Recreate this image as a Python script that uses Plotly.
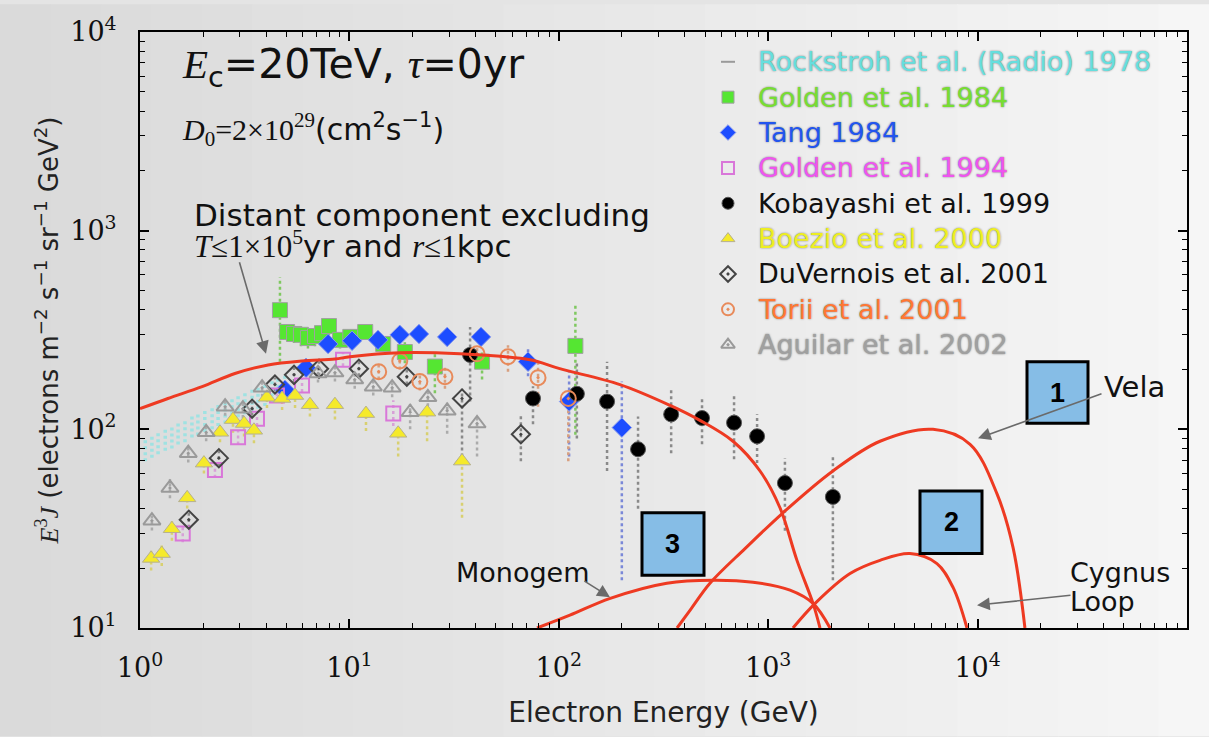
import plotly.graph_objects as go

# ---------------- data ----------------
rock_x = [1.06, 1.14, 1.22, 1.32, 1.42, 1.52, 1.64, 1.77, 1.89, 2.04, 2.21, 2.36, 2.55, 2.75, 2.94, 3.17, 3.43, 3.66, 3.95, 4.27, 4.56, 4.92]
rock_y = [79, 83, 86, 89, 92, 96, 99, 104, 107, 111, 115, 119, 123, 128, 132, 137, 142, 146, 151, 157, 162, 168]
rock_lo = [69, 72, 75, 78, 80, 84, 86, 91, 93, 97, 100, 104, 107, 111, 115, 119, 124, 127, 131, 137, 141, 146]
rock_hi = [90, 95, 98, 101, 105, 109, 113, 119, 122, 127, 131, 136, 140, 146, 150, 156, 162, 166, 172, 179, 185, 192]

g84_x = [4.66, 5.04, 5.44, 5.87, 6.34, 6.85, 7.40, 7.99, 9.02, 10.1, 11.9, 14.5, 18.4, 25.6, 43.0, 120]
g84_y = [398, 309, 302, 299, 288, 295, 305, 331, 282, 292, 309, 269, 245, 207, 219, 263]
g84_lo = [219, 280, 272, 262, 255, 262, 272, 300, 255, 265, 285, 245, 215, 152, 178, 94]
g84_hi = [582, 340, 335, 330, 320, 325, 335, 365, 310, 320, 335, 295, 275, 240, 250, 422]

tang_x = [4.92, 6.21, 7.91, 10.3, 13.7, 17.4, 21.5, 29.3, 42.5, 71.3, 112, 200]
tang_y = [158, 204, 269, 279, 282, 299, 302, 292, 292, 219, 138, 102]
tang_lo = [142, 186, 250, 260, 262, 278, 280, 270, 268, 185, 73, 17.4]
tang_hi = [175, 224, 290, 300, 304, 322, 326, 315, 318, 260, 195, 174]

g94_x = [1.60, 2.28, 2.94, 3.62, 4.51, 5.94, 9.32, 16.2]
g94_y = [29.9, 62.4, 91.2, 113, 148, 166, 224, 120]
g94_lo = [27, 57, 84, 104, 137, 154, 208, 104]
g94_hi = [33, 68, 99, 123, 160, 180, 242, 140]

kob_x = [37.7, 75.3, 122, 170, 239, 344, 483, 687, 885, 1202, 2037]
kob_y = [237, 143, 151, 138, 79.4, 119, 114, 108, 92.3, 53.7, 45.7]
kob_lo = [138, 106, 90, 61.7, 39.8, 75.9, 84.1, 70.8, 67.6, 30.9, 17.4]
kob_hi = [327, 165, 219, 219, 116, 160, 143, 150, 119, 71.6, 73.3]

boe_x = [1.13, 1.27, 1.42, 1.68, 2.02, 2.41, 2.78, 3.14, 3.50, 4.04, 4.77, 5.50, 6.48, 8.53, 12.0, 17.1, 23.5, 34.5]
boe_y = [22.4, 23.7, 31.6, 45.2, 67.6, 96.6, 112, 107, 98.9, 145, 143, 148, 133, 133, 120, 95.5, 122, 69.2]
boe_lo = [19.5, 20.5, 27.5, 40, 60, 86, 96, 92, 85, 128, 125, 128, 116, 112, 98, 73, 87, 35.9]
boe_hi = [24.5, 26, 34.5, 49, 73, 104, 120, 114, 106, 152, 150, 155, 140, 140, 127, 101, 128, 74]

duv_x = [1.71, 2.38, 3.43, 4.41, 5.44, 7.16, 11.1, 18.8, 34.5, 65.9]
duv_y = [35.1, 71.6, 127, 168, 188, 202, 202, 184, 143, 94.4]
duv_lo = [32, 66, 117, 155, 173, 186, 185, 168, 73, 69]
duv_hi = [38.5, 78, 138, 182, 204, 218, 220, 200, 160, 120]

tor_x = [13.8, 17.4, 21.7, 28.6, 40.7, 57.2, 79.6, 111]
tor_y = [195, 221, 174, 184, 240, 232, 182, 143]
tor_lo = [178, 200, 157, 160, 215, 195, 130, 69]
tor_hi = [212, 242, 192, 210, 265, 265, 220, 150]

agu_x = [1.14, 1.39, 1.70, 2.07, 2.55, 3.10, 3.83, 7.08, 8.53, 10.6, 13.0, 16.0, 19.5, 23.7, 29.3, 40.7]
agu_y = [34.7, 50.7, 75.9, 96.6, 130, 127, 162, 191, 193, 178, 164, 162, 122, 145, 124, 107]
agu_lo = [31, 45, 68, 87, 117, 114, 146, 172, 174, 160, 148, 145, 100, 122, 95, 73]
agu_hi = [38, 56, 84, 106, 143, 140, 178, 210, 212, 196, 180, 178, 134, 160, 136, 118]

# model curves
dist_x = [1, 1.36, 1.98, 2.84, 4.09, 5.94, 8.53, 10.07, 17.4, 33.7, 72.8, 101, 196, 340, 472, 679, 914, 1138, 1372, 1637, 1768]
dist_y = [127, 143, 164, 191, 211, 221, 226, 232, 243, 240, 224, 202, 168, 132, 111, 87.1, 61.7, 40.3, 21.9, 13.3, 10]
vela_x = [367, 424, 527, 775, 1177, 2037, 3420, 6124, 9204, 12380, 14770, 16830]
vela_y = [10, 12.3, 16.8, 25.1, 38.0, 61.7, 87.1, 100, 84.1, 47.3, 25.4, 10]
mono_x = [78.7, 113, 176, 328, 545, 846, 1271, 1637, 1973]
mono_y = [10, 11.6, 14.1, 16.8, 17.4, 17.0, 15.5, 13.3, 10]
cyg_x = [1313, 1675, 2460, 3420, 4753, 6396, 7634, 8895]
cyg_y = [10, 13.3, 18.8, 21.9, 23.7, 21.1, 16.0, 10]

tick_vals = [1, 10, 100, 1000, 10000, 100000]
x_tick_text = ["10<sup>0</sup>", "10<sup>1</sup>", "10<sup>2</sup>", "10<sup>3</sup>", "10<sup>4</sup>", "10<sup>5</sup>"]
y_tick_vals = [10, 100, 1000, 10000]
y_tick_text = ["10<sup>1</sup>", "10<sup>2</sup>", "10<sup>3</sup>", "10<sup>4</sup>"]

legend_names = ["Rockstroh et al. (Radio) 1978", "Golden et al. 1984", "Tang 1984", "Golden et al. 1994",
                "Kobayashi et al. 1999", "Boezio et al. 2000", "DuVernois et al. 2001",
                "Torii et al. 2001", "Aguilar et al. 2002"]

# ---------------- layout helpers ----------------
W, H = 1209, 737
L, R, T, B = 140, 1187, 28, 628


def px(x):
    return (x - L) / (R - L)


def py(y):
    return (B - y) / (B - T)


SANS = "DejaVu Sans"
SERIF = "DejaVu Serif"
RED = "#ee3a22"

fig = go.Figure()

series = [
    # x, y, lo, hi, symbol, size, fill, line colour, err colour, legend text colour, glow
    (rock_x, rock_y, rock_lo, rock_hi, "line-ew", 0, "#9a9a9a", "#9a9a9a", "#9fe2e2", "#66dede", True),
    (g84_x, g84_y, g84_lo, g84_hi, "square", 15, "#55e632", "#a0a0a0", "#7fc860", "#77dd33", True),
    (tang_x, tang_y, tang_lo, tang_hi, "diamond", 15, "#1d4dff", "#8899ee", "#7a88d8", "#2255ee", True),
    (g94_x, g94_y, g94_lo, g94_hi, "square-open", 14, "#d977d9", "#d977d9", "#d7a0d7", "#ee55ee", True),
    (kob_x, kob_y, kob_lo, kob_hi, "circle", 15, "#000000", "#555555", "#8a8a8a", "#111111", False),
    (boe_x, boe_y, boe_lo, boe_hi, "triangle-up", 15, "#f5ea2a", "#b5b090", "#d8d070", "#eeee22", True),
    (duv_x, duv_y, duv_lo, duv_hi, "diamond-open-dot", 14, "#444444", "#444444", "#8a8a8a", "#111111", False),
    (tor_x, tor_y, tor_lo, tor_hi, "circle-open-dot", 15, "#e88a5a", "#e88a5a", "#d8a080", "#ff7733", True),
    (agu_x, agu_y, agu_lo, agu_hi, "triangle-up-open-dot", 15, "#9a9a9a", "#9a9a9a", "#ababab", "#a0a0a0", True),
]

# error bars (dotted vertical segments)
for i, (sx, sy, lo, hi, sym, sz, fill, lc, ec, tc, glow) in enumerate(series):
    xs, ys = [], []
    for xi, l, h in zip(sx, lo, hi):
        xs += [xi, xi, None]
        ys += [l, h, None]
    fig.add_trace(go.Scatter(x=xs, y=ys, mode="lines",
                             line=dict(color=ec, width=(3.5 if i == 0 else 2.5), dash="3px,3px"),
                             showlegend=False, hoverinfo="skip"))

# markers
for (sx, sy, lo, hi, sym, sz, fill, lc, ec, tc, glow), name in zip(series, legend_names):
    if sz == 0:
        continue
    is_open = "open" in sym
    fig.add_trace(go.Scatter(
        x=sx, y=sy, mode="markers", name=name, showlegend=False,
        marker=dict(symbol=sym, size=sz, color=fill,
                    line=dict(color=(fill if is_open else lc), width=(2 if is_open else 1)))))

# model curves
for cx, cy, nm in [(dist_x, dist_y, "Distant"), (vela_x, vela_y, "Vela"),
                   (mono_x, mono_y, "Monogem"), (cyg_x, cyg_y, "Cygnus Loop")]:
    fig.add_trace(go.Scatter(x=cx, y=cy, mode="lines", name=nm, showlegend=False,
                             line=dict(color=RED, width=3, shape="spline", smoothing=1.0)))

# manual legend (markers on an overlay axis, text as annotations)
leg_x_marker = 728
leg_x_text = 756
leg_y0 = 58
leg_dy = 35.6
for i, ((sx, sy, lo, hi, sym, sz, fill, lc, ec, tc, glow), name) in enumerate(zip(series, legend_names)):
    yy = leg_y0 + i * leg_dy
    is_open = "open" in sym or sym == "line-ew"
    fig.add_trace(go.Scatter(
        x=[px(leg_x_marker)], y=[py(yy)], xaxis="x2", yaxis="y2", mode="markers",
        showlegend=False, hoverinfo="skip",
        marker=dict(symbol=sym, size=(12 if i != 0 else 10), color=fill,
                    line=dict(color=(fill if is_open else lc), width=(2 if is_open else 1)))))
    font = dict(family=SANS, size=27, color=tc)
    if glow:
        font["shadow"] = "0px 0px 2px #7a7a7a"
    fig.add_annotation(x=px(leg_x_text), y=py(yy), xref="paper", yref="paper", text=name,
                       showarrow=False, xanchor="left", yanchor="middle", font=font)


# ---------------- text annotations ----------------
def text_at(x, y, txt, size, family=SANS):
    fig.add_annotation(x=px(x), y=py(y), xref="paper", yref="paper", xanchor="left", yanchor="middle",
                       showarrow=False, font=dict(family=family, size=size, color="#111"), text=txt)


text_at(180, 63, "<span style='font-family:Liberation Serif'><i>E</i></span><sub>c</sub>=20TeV, "
                 "<span style='font-family:Liberation Serif'><i>τ</i></span>=0yr", 41)
text_at(180, 126, "<span style='font-family:Liberation Serif'><i>D</i><sub>0</sub>=2×10<sup>29</sup></span>"
                  "(cm<sup>2</sup>s<sup>−1</sup>)", 30)
text_at(192, 212, "Distant component excluding", 31)
text_at(192, 242, "<span style='font-family:Liberation Serif'><i>T</i>≤1×10<sup>5</sup></span>yr and "
                  "<span style='font-family:Liberation Serif'><i>r</i>≤1</span>kpc", 31)
text_at(454, 572, "Monogem", 27)
text_at(1102, 385, "Vela", 29)
text_at(1068, 572, "Cygnus", 27)
text_at(1068, 601, "Loop", 27)

# arrows (tip, tail)
for tip, tail in [((266, 352), (239, 259)), ((610, 597), (583, 580)),
                  ((978, 437), (1103, 392)), ((977, 605), (1072, 595))]:
    fig.add_annotation(x=px(tip[0]), y=py(tip[1]), xref="paper", yref="paper", text="",
                       showarrow=True, arrowhead=2, arrowsize=1.6, arrowwidth=1.6, arrowcolor="#6a6a6a",
                       ax=tail[0] - tip[0], ay=tail[1] - tip[1])

# numbered boxes
for lab, (x0, y0, x1, y1) in [("1", (1027, 360, 1088, 422)), ("2", (920, 490, 982, 553)), ("3", (642, 512, 704, 575))]:
    fig.add_shape(type="rect", xref="paper", yref="paper", x0=px(x0), x1=px(x1), y0=py(y1), y1=py(y0),
                  fillcolor="#86bde6", line=dict(color="#000", width=3), layer="above")
    fig.add_annotation(x=px((x0 + x1) / 2), y=py((y0 + y1) / 2), xref="paper", yref="paper",
                       xanchor="center", yanchor="middle", text="<b>" + lab + "</b>",
                       showarrow=False, font=dict(family="Liberation Sans", size=27, color="#000"))

# background gradient strips (figure background)
n = 24
for k in range(n):
    f = k / (n - 1)
    g = int(218 + (246 - 218) * f)
    fig.add_shape(type="rect", xref="paper", yref="paper", layer="below",
                  x0=px(k * W / n), x1=px((k + 1) * W / n + 1), y0=py(H), y1=py(0),
                  fillcolor=f"rgb({g},{g},{g})", line=dict(width=0))

minor_vals = [m * 10 ** d for d in range(0, 5) for m in range(2, 10)]
axis_common = dict(type="log", showgrid=False, zeroline=False, showline=True, linecolor="#000", linewidth=2,
                   mirror="allticks", ticks="inside", ticklen=9, tickwidth=1.6, tickcolor="#000",
                   tickfont=dict(family=SERIF, size=27, color="#111"))

fig.update_layout(
    width=W, height=H,
    margin=dict(l=L, r=W - R, t=T, b=H - B),
    paper_bgcolor="#e4e4e4",
    plot_bgcolor="rgba(255,255,255,0.55)",
    showlegend=False,
    xaxis=dict(axis_common, range=[0, 5], tickvals=tick_vals, ticktext=x_tick_text,
               minor=dict(tickvals=minor_vals, ticks="inside", ticklen=5, tickwidth=1.2, tickcolor="#000"),
               ticklabelstandoff=15,
               title=dict(text="Electron Energy (GeV)", font=dict(family=SANS, size=28, color="#222"), standoff=20)),
    yaxis=dict(axis_common, range=[1, 4], tickvals=y_tick_vals, ticktext=y_tick_text,
               minor=dict(tickvals=minor_vals, ticks="inside", ticklen=5, tickwidth=1.2, tickcolor="#000"),
               ticklabelstandoff=16,
               title=dict(text="<span style='font-family:Liberation Serif'><i>E</i><sup>3</sup><i>J</i></span> (electrons m<sup>−2</sup> s<sup>−1</sup> sr<sup>−1</sup> GeV<sup>2</sup>)",
                          font=dict(family=SANS, size=26, color="#222"), standoff=4)),
    xaxis2=dict(domain=[0, 1], range=[0, 1], visible=False, overlaying="x", anchor="y2"),
    yaxis2=dict(range=[0, 1], visible=False, overlaying="y", anchor="x2"),
)

fig.write_html("out.html", config={"displayModeBar": False},
               post_script="document.body.style.margin='0';document.body.style.overflow='hidden';")
